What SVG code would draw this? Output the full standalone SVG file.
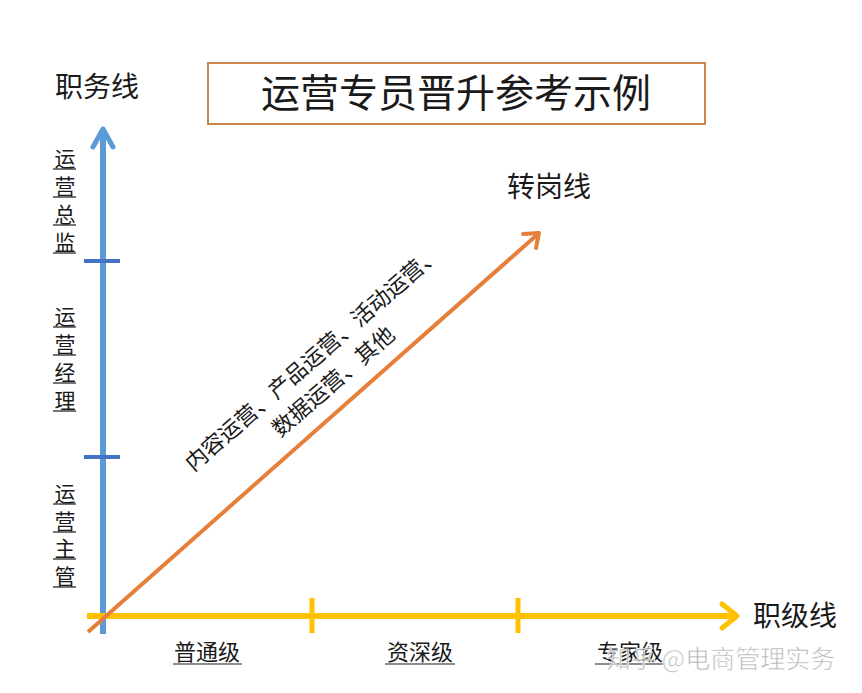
<svg xmlns="http://www.w3.org/2000/svg" width="862" height="693" viewBox="0 0 862 693">
<style>
text{font-family:"Liberation Serif","Noto Sans CJK SC",serif;fill:#1a1a1a}
.lbl{font-size:28px}
.v{font-size:21px;text-anchor:middle}
.lv{font-size:22px;text-anchor:middle}
.ul{stroke:#1a1a1a;stroke-width:1.2}
.diag{font-size:22px;text-anchor:middle}
</style>
<rect width="862" height="693" fill="#fff"/>
<g id="title">
<rect x="208" y="63" width="497" height="61" fill="#fff" stroke="#C8864E" stroke-width="2"/>
<text x="456" y="107" font-size="39" text-anchor="middle">运营专员晋升参考示例</text>
</g>
<g id="connectors" fill="none" stroke-linecap="round" stroke-linejoin="round">
<line x1="103" y1="634" x2="103" y2="130" stroke="#5B9BD5" stroke-width="6" stroke-linecap="butt"/>
<polyline points="93,147 103,129 113,147" stroke="#5B9BD5" stroke-width="5"/>
<line x1="84" y1="261" x2="120" y2="261" stroke="#4472C4" stroke-width="4" stroke-linecap="butt"/>
<line x1="84" y1="457" x2="120" y2="457" stroke="#4472C4" stroke-width="4" stroke-linecap="butt"/>
<line x1="87" y1="616" x2="736" y2="616" stroke="#FFC000" stroke-width="6" stroke-linecap="butt"/>
<polyline points="722,604 737,616 722,628" stroke="#FFC000" stroke-width="5"/>
<line x1="312" y1="598" x2="312" y2="633" stroke="#FFC000" stroke-width="5" stroke-linecap="butt"/>
<line x1="518" y1="598" x2="518" y2="633" stroke="#FFC000" stroke-width="5" stroke-linecap="butt"/>
<line x1="88" y1="632" x2="538" y2="234" stroke="#E57F3A" stroke-width="4" stroke-linecap="butt"/>
<polyline points="523,234 539,233 536,248" stroke="#E57F3A" stroke-width="4"/>
</g>
<g id="axis-labels">
<text class="lbl" x="55" y="97">职务线</text>
<text class="lbl" x="507" y="197">转岗线</text>
<text class="lbl" x="753" y="626">职级线</text>
</g>
<g id="vertical-labels">
<text class="v" x="65" y="166">运</text><line class="ul" x1="53" y1="169" x2="76" y2="169"/>
<text class="v" x="65" y="194">营</text><line class="ul" x1="53" y1="197" x2="76" y2="197"/>
<text class="v" x="65" y="222">总</text><line class="ul" x1="53" y1="225" x2="76" y2="225"/>
<text class="v" x="65" y="250">监</text><line class="ul" x1="53" y1="253" x2="76" y2="253"/>
<text class="v" x="65" y="324">运</text><line class="ul" x1="53" y1="327" x2="76" y2="327"/>
<text class="v" x="65" y="352">营</text><line class="ul" x1="53" y1="355" x2="76" y2="355"/>
<text class="v" x="65" y="380">经</text><line class="ul" x1="53" y1="383" x2="76" y2="383"/>
<text class="v" x="65" y="408">理</text><line class="ul" x1="53" y1="411" x2="76" y2="411"/>
<text class="v" x="65" y="501">运</text><line class="ul" x1="53" y1="504" x2="76" y2="504"/>
<text class="v" x="65" y="529">营</text><line class="ul" x1="53" y1="532" x2="76" y2="532"/>
<text class="v" x="65" y="556">主</text><line class="ul" x1="53" y1="559" x2="76" y2="559"/>
<text class="v" x="65" y="584">管</text><line class="ul" x1="53" y1="587" x2="76" y2="587"/>
</g>
<g id="level-labels">
<text class="lv" x="207" y="660">普通级</text><line class="ul" x1="173" y1="664" x2="242" y2="664"/>
<text class="lv" x="420" y="660">资深级</text><line class="ul" x1="385" y1="664" x2="455" y2="664"/>
<text class="lv" x="630" y="660">专家级</text><line class="ul" x1="595" y1="664" x2="665" y2="664"/>
</g>
<g id="diagonal-label">
<g transform="translate(318,364) rotate(-41)">
<text class="diag" x="0" y="0">内容运营、产品运营、活动运营、</text>
<text class="diag" x="0" y="31">数据运营、其他</text>
</g>
</g>
<g id="watermark">
<text x="606" y="668" font-size="25" style="fill:#aaaaaa;font-family:'Noto Sans CJK SC',sans-serif" fill-opacity="0.85" stroke="#ffffff" stroke-width="0.6">知乎 @电商管理实务</text>
</g>
</svg>
